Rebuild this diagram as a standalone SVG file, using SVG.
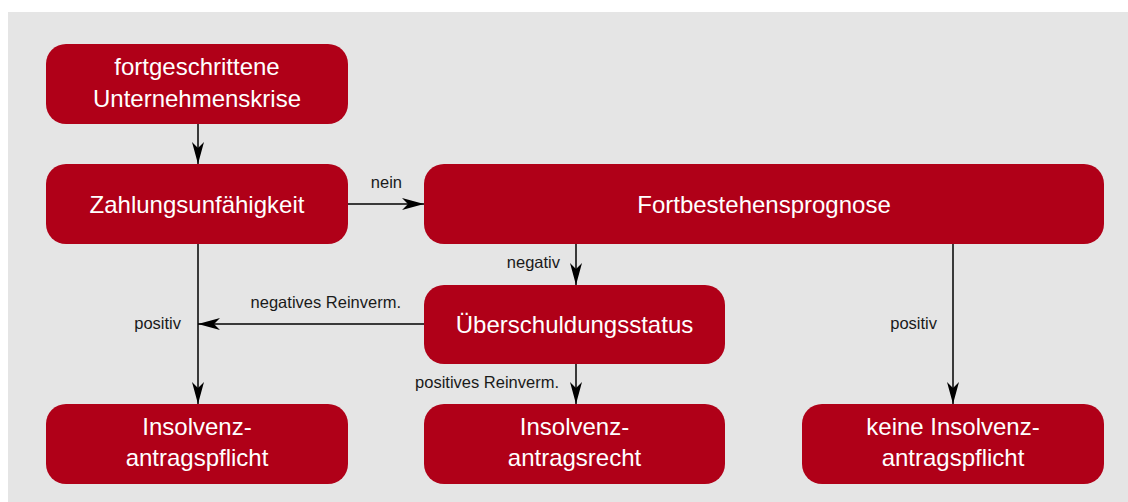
<svg xmlns="http://www.w3.org/2000/svg" width="1128" height="502" viewBox="0 0 1128 502">
<defs>
<style>
.box{fill:#b00018;}
.bt{font-family:"Liberation Sans",Arial,sans-serif;font-size:24px;fill:#ffffff;text-anchor:middle;}
.lbl{font-family:"Liberation Sans",Arial,sans-serif;font-size:16.5px;fill:#1a1a1a;text-anchor:end;}
.ln{stroke:#000;stroke-width:1.5;fill:none;marker-end:url(#ah);}
</style>
<marker id="ah" viewBox="0 0 22 12" refX="22" refY="6" markerWidth="22" markerHeight="12" markerUnits="userSpaceOnUse" orient="auto">
<path d="M0,0 L22,6 L0,12 L6,6 Z" fill="#000"/>
</marker>
</defs>
<rect x="8" y="12" width="1120" height="490" fill="#e5e5e5"/>
<g id="connectors">
<line class="ln" x1="198" y1="124" x2="198" y2="164"/>
<line class="ln" x1="348" y1="204" x2="424" y2="204"/>
<line class="ln" x1="198" y1="244" x2="198" y2="404"/>
<line class="ln" x1="424" y1="324" x2="198" y2="324"/>
<line class="ln" x1="576" y1="244" x2="576" y2="285"/>
<line class="ln" x1="576" y1="364" x2="576" y2="404"/>
<line class="ln" x1="953" y1="244" x2="953" y2="404"/>
<text class="lbl" x="402" y="188">nein</text>
<text class="lbl" x="560" y="268">negativ</text>
<text class="lbl" x="401" y="308">negatives Reinverm.</text>
<text class="lbl" x="181" y="329">positiv</text>
<text class="lbl" x="559" y="388">positives Reinverm.</text>
<text class="lbl" x="937" y="329">positiv</text>
</g>
<g id="n1"><rect class="box" x="46" y="44" width="302" height="80" rx="20"/><text class="bt" x="197" y="75">fortgeschrittene</text><text class="bt" x="197" y="107">Unternehmenskrise</text></g>
<g id="n2"><rect class="box" x="46" y="164" width="302" height="80" rx="20"/><text class="bt" x="197" y="213">Zahlungsunfähigkeit</text></g>
<g id="n3"><rect class="box" x="424" y="164" width="680" height="80" rx="20"/><text class="bt" x="764" y="213">Fortbestehensprognose</text></g>
<g id="n4"><rect class="box" x="424" y="285" width="301" height="79" rx="20"/><text class="bt" x="574.5" y="333">Überschuldungsstatus</text></g>
<g id="n5"><rect class="box" x="46" y="404" width="302" height="80" rx="20"/><text class="bt" x="197" y="435">Insolvenz-</text><text class="bt" x="197" y="466">antragspflicht</text></g>
<g id="n6"><rect class="box" x="424" y="404" width="301" height="80" rx="20"/><text class="bt" x="574.5" y="435">Insolvenz-</text><text class="bt" x="574.5" y="466">antragsrecht</text></g>
<g id="n7"><rect class="box" x="802" y="404" width="302" height="80" rx="20"/><text class="bt" x="953" y="435">keine Insolvenz-</text><text class="bt" x="953" y="466">antragspflicht</text></g>
</svg>
